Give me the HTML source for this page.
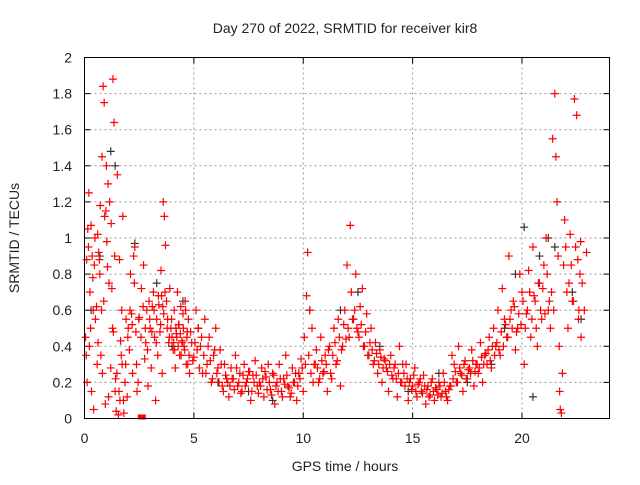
<!DOCTYPE html>
<html><head><meta charset="utf-8"><style>
body{margin:0;background:#fff}
svg text{font-family:"Liberation Sans",sans-serif;font-size:14px;fill:#222}
</style></head><body>
<svg id="chart" width="640" height="480" viewBox="0 0 640 480" xmlns="http://www.w3.org/2000/svg">
<rect width="640" height="480" fill="#fff"/>
<g id="grid"></g>
<g id="ticks"></g>
<g id="marks"></g>
<rect x="84.5" y="57.5" width="525" height="361" fill="none" stroke="#000" stroke-width="1"/>
<text x="345" y="33" text-anchor="middle">Day 270 of 2022, SRMTID for receiver kir8</text>
<text x="345" y="471" text-anchor="middle">GPS time / hours</text>
<text transform="translate(19,238) rotate(-90)" text-anchor="middle">SRMTID / TECUs</text>
</svg>
<script>
const xTicks=[0,5,10,15,20];
const yTicks=[0,0.2,0.4,0.6,0.8,1,1.2,1.4,1.6,1.8,2];
const yTickLabels=["0","0.2","0.4","0.6","0.8","1","1.2","1.4","1.6","1.8","2"];
const redT=[0.05,0.1,0.12,0.15,0.2,0.22,0.25,0.3,0.32,0.35,0.4,0.42,0.45,0.5,0.55,0.58,0.6,0.65,0.7,0.72,0.75,0.8,0.82,0.85,0.88,0.9,0.92,0.95,1.0,1.02,1.05,1.08,1.1,1.15,1.2,1.22,1.25,1.3,1.32,1.35,1.4,1.42,1.45,1.5,1.55,1.6,1.62,1.65,1.7,1.72,1.75,1.8,1.85,1.9,1.95,2.0,2.05,2.1,2.15,2.2,2.25,2.3,2.35,2.4,2.45,2.5,2.6,2.7,2.75,2.8,2.85,2.9,2.95,3.0,3.05,3.1,3.15,3.2,3.25,3.3,3.35,3.4,3.45,3.5,3.52,3.55,3.6,3.62,3.65,3.7,3.75,3.8,3.85,3.9,3.95,4.0,4.05,4.1,4.15,4.2,4.25,4.3,4.35,4.4,4.45,4.5,4.55,4.6,4.65,4.7,4.75,4.8,4.9,5.0,5.1,5.2,5.3,5.4,5.5,5.6,5.7,5.8,5.9,6.0,6.1,6.2,6.3,6.4,6.5,6.6,6.7,6.8,6.9,7.0,7.1,7.2,7.3,7.4,7.5,7.6,7.7,7.8,7.9,8.0,8.1,8.2,8.3,8.4,8.5,8.6,8.7,8.8,8.9,9.0,9.1,9.2,9.3,9.4,9.5,9.6,9.7,9.8,9.9,10.0,10.05,10.1,10.15,10.2,10.3,10.4,10.5,10.6,10.7,10.8,10.9,11.0,11.1,11.2,11.3,11.4,11.5,11.6,11.7,11.8,11.9,12.0,12.1,12.15,12.2,12.3,12.4,12.5,12.6,12.7,12.8,12.9,13.0,13.1,13.2,13.3,13.4,13.5,13.6,13.7,13.8,13.9,14.0,14.1,14.2,14.3,14.4,14.5,14.6,14.7,14.8,14.9,15.0,15.1,15.2,15.3,15.4,15.5,15.6,15.7,15.8,15.9,16.0,16.1,16.2,16.3,16.4,16.5,16.6,16.7,16.8,16.9,17.0,17.1,17.2,17.3,17.4,17.5,17.6,17.7,17.8,17.9,18.0,18.1,18.2,18.3,18.4,18.5,18.6,18.7,18.8,18.9,19.0,19.1,19.2,19.3,19.4,19.5,19.6,19.7,19.8,19.9,20.0,20.1,20.2,20.3,20.4,20.5,20.6,20.7,20.8,20.9,21.0,21.1,21.2,21.3,21.4,21.5,21.55,21.6,21.65,21.7,21.72,21.75,21.8,21.85,21.9,21.95,22.0,22.05,22.1,22.2,22.3,22.4,22.5,22.55,22.6,22.65,22.7,22.8,22.9];
const redV=[0.45,0.88,0.2,1.05,1.25,0.4,0.7,1.07,0.15,0.9,0.6,0.05,0.85,0.55,0.62,0.3,1.02,0.92,0.8,1.18,0.35,1.45,0.25,1.84,0.65,1.75,1.12,0.08,1.4,0.98,0.84,1.3,0.12,1.2,0.28,1.08,0.72,1.88,0.48,1.64,0.15,0.22,0.04,1.35,0.02,0.88,0.1,0.43,0.6,0.3,1.12,0.03,0.2,0.55,0.12,0.5,0.38,0.8,0.58,0.25,0.9,0.95,0.48,0.15,0.2,0.56,0.72,0.85,0.33,0.42,0.6,0.18,0.65,0.5,0.28,0.62,0.7,0.45,0.1,0.55,0.35,0.63,0.48,0.82,0.68,0.25,1.2,0.58,1.12,0.96,0.65,0.55,0.42,0.72,0.5,0.45,0.38,0.6,0.28,0.47,0.7,0.52,0.35,0.62,0.43,0.58,0.4,0.65,0.3,0.48,0.55,0.25,0.42,0.34,0.6,0.5,0.4,0.25,0.55,0.3,0.45,0.2,0.35,0.5,0.28,0.38,0.18,0.3,0.22,0.12,0.28,0.22,0.35,0.18,0.25,0.15,0.3,0.2,0.26,0.1,0.24,0.32,0.18,0.2,0.28,0.12,0.23,0.3,0.16,0.25,0.08,0.2,0.3,0.15,0.22,0.35,0.18,0.12,0.28,0.2,0.1,0.25,0.33,0.15,0.45,0.3,0.68,0.92,0.6,0.5,0.3,0.38,0.2,0.45,0.25,0.35,0.15,0.4,0.22,0.5,0.3,0.55,0.18,0.4,0.6,0.85,0.45,1.07,0.7,0.55,0.8,0.48,0.62,0.72,0.4,0.58,0.35,0.5,0.3,0.42,0.25,0.38,0.2,0.33,0.28,0.15,0.35,0.22,0.3,0.12,0.4,0.2,0.25,0.3,0.1,0.22,0.18,0.28,0.12,0.2,0.15,0.24,0.08,0.18,0.13,0.22,0.1,0.16,0.2,0.12,0.25,0.15,0.1,0.18,0.35,0.3,0.2,0.4,0.25,0.15,0.32,0.22,0.28,0.38,0.18,0.3,0.25,0.42,0.2,0.35,0.3,0.45,0.28,0.5,0.4,0.6,0.35,0.72,0.55,0.45,0.9,0.6,0.65,0.38,0.5,0.8,0.7,0.3,0.58,0.82,0.45,0.95,0.65,0.4,0.75,0.55,0.85,1.0,0.6,0.5,1.55,1.8,1.45,1.2,0.9,0.4,0.15,0.05,0.03,0.25,0.85,1.1,0.95,0.7,0.5,1.02,0.65,1.77,1.68,0.88,0.6,0.8,0.45];
const redT2=[0.08,0.18,0.28,0.38,0.48,0.62,0.68,0.78,0.98,1.12,1.28,1.38,1.48,1.58,1.68,1.78,1.88,1.98,2.08,2.18,2.28,2.38,2.48,2.58,2.68,2.78,2.88,2.98,3.08,3.18,3.28,3.38,3.48,3.58,3.68,3.78,3.88,3.98,4.08,4.12,4.18,4.22,4.28,4.32,4.38,4.42,4.48,4.52,4.58,4.62,4.68,4.72,4.78,4.85,4.95,5.05,5.15,5.25,5.35,5.45,5.55,5.65,5.75,5.85,5.95,6.05,6.15,6.25,6.35,6.45,6.55,6.65,6.75,6.85,6.95,7.05,7.15,7.25,7.35,7.45,7.55,7.65,7.75,7.85,7.95,8.05,8.15,8.25,8.35,8.45,8.55,8.65,8.75,8.85,8.95,9.05,9.15,9.25,9.35,9.45,9.55,9.65,9.75,9.85,9.95,10.25,10.35,10.45,10.55,10.65,10.75,10.85,10.95,11.05,11.15,11.25,11.35,11.45,11.55,11.65,11.75,11.85,11.95,12.05,12.25,12.35,12.45,12.55,12.65,12.75,12.85,12.95,13.05,13.15,13.25,13.35,13.45,13.55,13.65,13.75,13.85,13.95,14.05,14.15,14.25,14.35,14.45,14.55,14.65,14.75,14.85,14.95,15.05,15.15,15.25,15.35,15.45,15.55,15.65,15.75,15.85,15.95,16.05,16.15,16.25,16.35,16.45,16.55,16.65,16.75,16.85,16.95,17.05,17.15,17.25,17.35,17.45,17.55,17.65,17.75,17.85,17.95,18.05,18.15,18.25,18.35,18.45,18.55,18.65,18.75,18.85,18.95,19.05,19.15,19.25,19.35,19.45,19.55,19.65,19.75,19.85,19.95,20.05,20.15,20.25,20.35,20.45,20.55,20.65,20.75,20.85,20.95,21.05,21.15,21.25,21.35,21.45,22.15,22.25,22.35,22.45,22.58,22.68,22.75,22.85,22.95];
const redV2=[0.35,0.95,0.5,0.78,1.0,0.42,0.88,0.6,1.15,0.75,0.5,0.9,0.25,0.15,0.35,0.1,0.3,0.45,0.6,0.52,0.75,0.3,0.55,0.45,0.62,0.5,0.38,0.55,0.48,0.6,0.42,0.68,0.52,0.62,0.7,0.5,0.45,0.55,0.42,0.38,0.5,0.45,0.4,0.52,0.47,0.35,0.42,0.5,0.38,0.6,0.45,0.3,0.35,0.48,0.32,0.42,0.38,0.28,0.45,0.35,0.25,0.4,0.32,0.22,0.38,0.25,0.2,0.3,0.15,0.24,0.2,0.18,0.22,0.16,0.28,0.2,0.14,0.24,0.18,0.22,0.26,0.15,0.2,0.24,0.14,0.18,0.22,0.26,0.16,0.2,0.13,0.24,0.18,0.15,0.22,0.12,0.19,0.24,0.17,0.14,0.2,0.25,0.18,0.22,0.28,0.35,0.25,0.2,0.3,0.28,0.22,0.32,0.26,0.3,0.38,0.25,0.35,0.42,0.32,0.45,0.38,0.52,0.44,0.5,0.55,0.6,0.5,0.45,0.52,0.4,0.48,0.35,0.42,0.38,0.32,0.36,0.3,0.34,0.28,0.32,0.26,0.3,0.24,0.28,0.22,0.25,0.2,0.3,0.18,0.22,0.2,0.16,0.24,0.15,0.19,0.22,0.14,0.18,0.16,0.12,0.2,0.15,0.17,0.13,0.18,0.14,0.2,0.12,0.16,0.18,0.22,0.26,0.2,0.28,0.24,0.3,0.22,0.27,0.25,0.32,0.26,0.3,0.28,0.34,0.3,0.36,0.38,0.32,0.4,0.35,0.42,0.38,0.48,0.4,0.52,0.45,0.55,0.5,0.62,0.48,0.58,0.52,0.65,0.5,0.6,0.7,0.55,0.68,0.5,0.75,0.6,0.72,0.58,0.8,0.65,0.7,0.6,0.75,0.85,0.65,0.95,0.55,0.98,0.75,0.6,0.92,0.7,0.55,0.85,0.72,0.5,0.9,0.62,0.38];
const darkT=[0.3,0.7,1.2,1.4,2.3,3.3,4.0,4.5,5.2,6.1,7.5,8.6,9.8,10.3,11.7,12.5,13.5,14.8,16.2,17.5,18.6,19.2,19.7,20.1,20.5,20.8,21.2,21.5,22.3,22.7];
const darkV=[0.6,0.9,1.48,1.4,0.97,0.75,0.4,0.65,0.5,0.2,0.15,0.1,0.25,0.6,0.6,0.7,0.4,0.15,0.25,0.2,0.3,0.5,0.8,1.06,0.12,0.9,1.0,0.95,0.7,0.55];
const X0=84.5,X1=609.5,Y0=418.5,Y1=57.5;
const xs=t=>X0+t/24*(X1-X0);
const ys=v=>Y0-v/2*(Y0-Y1);
const NS="http://www.w3.org/2000/svg";
const grid=document.getElementById('grid'),ticks=document.getElementById('ticks'),marks=document.getElementById('marks');
function ln(p,x1,y1,x2,y2,c,d){const l=document.createElementNS(NS,'line');l.setAttribute('x1',x1);l.setAttribute('y1',y1);l.setAttribute('x2',x2);l.setAttribute('y2',y2);l.setAttribute('stroke',c);if(d)l.setAttribute('stroke-dasharray',d);p.appendChild(l);return l;}
function tx(p,x,y,s,a){const t=document.createElementNS(NS,'text');t.setAttribute('x',x);t.setAttribute('y',y);t.setAttribute('text-anchor',a);t.textContent=s;p.appendChild(t);return t;}
xTicks.forEach(v=>{const x=xs(v);
 const g=ln(grid,x,Y1,x,Y0,'#999','2,3');
 
 
 ln(ticks,x,Y0,x,Y0-6,'#000');ln(ticks,x,Y1,x,Y1+6,'#000');
 const t=tx(ticks,x,443,String(v),'middle');
 
 });
yTicks.forEach((v,i)=>{const y=ys(v);
 const g=ln(grid,X0,y,X1,y,'#999','2,3');
 
 
 ln(ticks,X0,y,X0+6,y,'#000');ln(ticks,X1,y,X1-6,y,'#000');
 const t=tx(ticks,72,y+5,yTickLabels[i],'end');
 
 });
function cross(t,v,c,name){const x=xs(t),y=ys(v);const p=document.createElementNS(NS,'path');
 p.setAttribute('d',`M${x-4} ${y}H${x+4}M${x} ${y-4}V${y+4}`);p.setAttribute('stroke',c);p.setAttribute('stroke-width','1.2');
 
 
 marks.appendChild(p);}
darkT.forEach((t,i)=>cross(t,darkV[i],'#333','dark-point'));
redT.forEach((t,i)=>cross(t,redV[i],'#f00','red-point'));
redT2.forEach((t,i)=>cross(t,redV2[i],'#f00','red-point'));
const sq=document.createElementNS(NS,'rect');sq.setAttribute('x',xs(2.62)-4);sq.setAttribute('y',ys(0)-4);sq.setAttribute('width',8);sq.setAttribute('height',5);sq.setAttribute('fill','#f00');


marks.appendChild(sq);
</script>
</body></html>
